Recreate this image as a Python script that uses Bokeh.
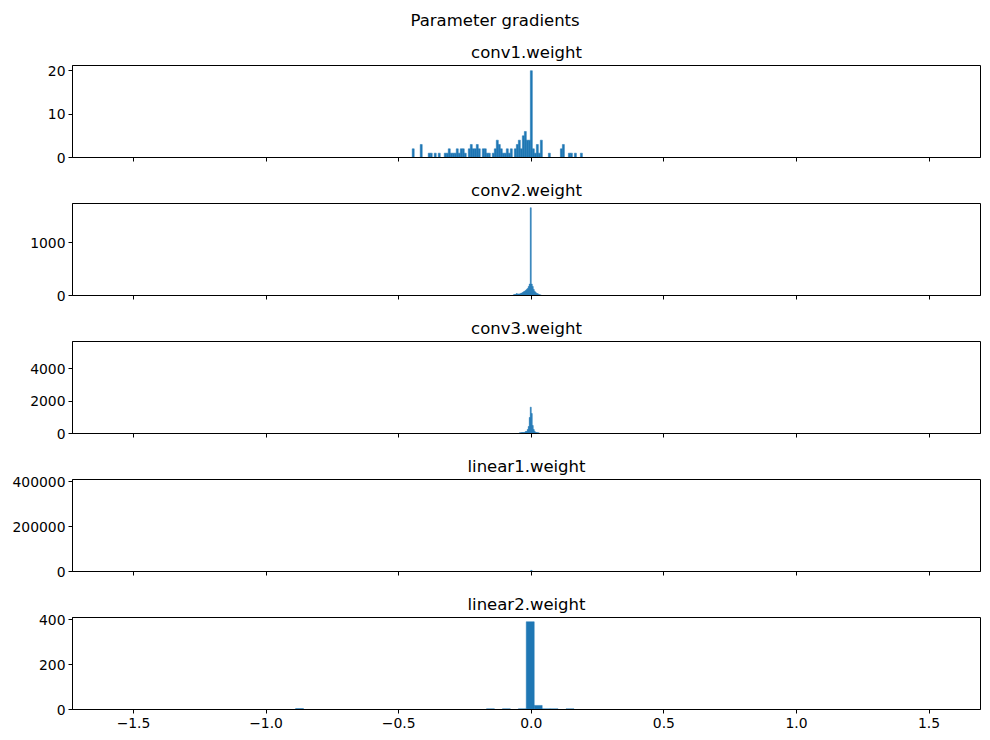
import numpy as np
from bokeh.plotting import figure
from bokeh.layouts import column
from bokeh.models import Range1d, FixedTicker, Title
from bokeh.embed import file_html
from bokeh.resources import INLINE

# histograms: first bin edge, bin width, counts per bin
names = ["conv1.weight", "conv2.weight", "conv3.weight", "linear1.weight", "linear2.weight"]

conv1_start = -0.449
conv1_width = 0.00755
conv1_counts = [2, 0, 0, 0, 3, 0, 0, 0, 1, 1,
                0, 1, 0, 1, 0, 0, 1, 1, 2, 1,
                1, 1, 2, 1, 2, 2, 1, 0, 2, 3,
                2, 2, 3, 2, 0, 2, 2, 1, 1, 0,
                1, 2, 4, 3, 2, 1, 1, 2, 1, 2,
                0, 2, 3, 4, 2, 5, 6, 4, 4, 20,
                2, 1, 3, 1, 4, 0, 0, 0, 1, 0,
                0, 0, 0, 0, 2, 3, 0, 0, 1, 1,
                0, 1, 0, 0, 1]

conv2_start = -0.0679
conv2_width = 0.00377
conv2_counts = [15, 20, 20, 38, 25, 30, 30, 40, 45, 57,
                70, 80, 95, 115, 134, 172, 216, 1660, 216, 172,
                115, 76, 57, 38, 35, 20, 15, 10]

conv3_start = -0.0453
conv3_width = 0.00377
conv3_counts = [40, 50, 55, 60, 60, 65, 124, 124, 247, 433,
                990, 1630, 1237, 495, 247, 124, 62, 60, 50, 40]

linear1_start = -0.002
linear1_width = 0.005
linear1_counts = [5000]

linear2_start = -0.8889
linear2_width = 0.03
linear2_counts = [4, 0, 0, 0, 0, 0, 0, 0, 0, 0,
                  0, 0, 0, 0, 0, 0, 0, 0, 0, 0,
                  0, 0, 0, 0, 3, 0, 3, 0, 3, 390,
                  18, 3, 3, 0, 3]

starts = [conv1_start, conv2_start, conv3_start, linear1_start, linear2_start]
widths = [conv1_width, conv2_width, conv3_width, linear1_width, linear2_width]
counts_all = [conv1_counts, conv2_counts, conv3_counts, linear1_counts, linear2_counts]

# y limits (matplotlib autoscale of the full data) and tick values
y_tops = [21.2, 1740, 5690, 410300, 409]
y_ticks = [[0, 10, 20], [0, 1000], [0, 2000, 4000], [0, 200000, 400000], [0, 200, 400]]

x_ticks = [-1.5, -1.0, -0.5, 0.0, 0.5, 1.0, 1.5]
x_labels = ["\u22121.5", "\u22121.0", "\u22120.5", "0.0", "0.5", "1.0", "1.5"]
x_lo, x_hi = -1.730, 1.694

FONT = "DejaVu Sans"
BLUE = "#1f77b4"

x_range = Range1d(x_lo, x_hi)
figs = []
for i in range(5):
    last = i == 4
    top_border = 65 if i == 0 else 28
    bottom_border = 24 if last else 18
    height = top_border + 92 + bottom_border
    p = figure(width=988, height=height, x_range=x_range, y_range=Range1d(0, y_tops[i]),
               output_backend="svg", toolbar_location=None,
               min_border_left=72, min_border_right=8, min_border_top=top_border,
               min_border_bottom=bottom_border)

    counts = np.array(counts_all[i], dtype=float)
    left = starts[i] + widths[i] * np.arange(len(counts))
    keep = counts > 0
    p.quad(left=left[keep], right=left[keep] + widths[i], top=counts[keep], bottom=0,
           fill_color=BLUE, line_color=BLUE, line_width=0.5)

    # panel title, then the figure title above the first panel
    p.add_layout(Title(text=names[i], align="center", text_font=FONT,
                       text_font_size="16.5px", text_font_style="normal",
                       text_color="black", standoff=7), "above")
    if i == 0:
        p.add_layout(Title(text="Parameter gradients", align="left", offset=338,
                           text_font=FONT, text_font_size="16.5px",
                           text_font_style="normal", text_color="black",
                           standoff=16), "above")

    p.xgrid.visible = False
    p.ygrid.visible = False
    p.outline_line_color = "black"
    p.outline_line_alpha = 1
    p.background_fill_color = "white"
    p.border_fill_color = "white"

    for ax in (p.xaxis, p.yaxis):
        ax.axis_line_color = "black"
        ax.major_tick_line_color = "black"
        ax.minor_tick_line_color = None
        ax.major_tick_in = 0
        ax.major_tick_out = 4
        ax.major_label_text_font = FONT
        ax.major_label_text_font_size = "13.9px"
        ax.major_label_text_color = "black"

    p.yaxis.ticker = FixedTicker(ticks=y_ticks[i])
    p.yaxis.major_label_overrides = {t: str(t) for t in y_ticks[i]}
    p.yaxis.major_label_standoff = 3

    # shared x axis: tick labels only shown under the last panel
    p.xaxis.ticker = FixedTicker(ticks=x_ticks)
    p.xaxis.major_label_overrides = dict(zip(x_ticks, x_labels))
    if last:
        p.xaxis.major_label_standoff = 4
    else:
        p.xaxis.major_label_text_color = "white"
        p.xaxis.major_label_text_font_size = "11px"
        p.xaxis.major_label_standoff = 0

    figs.append(p)

layout = column(figs, spacing=0)
open("out.html", "w").write(file_html(layout, INLINE))
